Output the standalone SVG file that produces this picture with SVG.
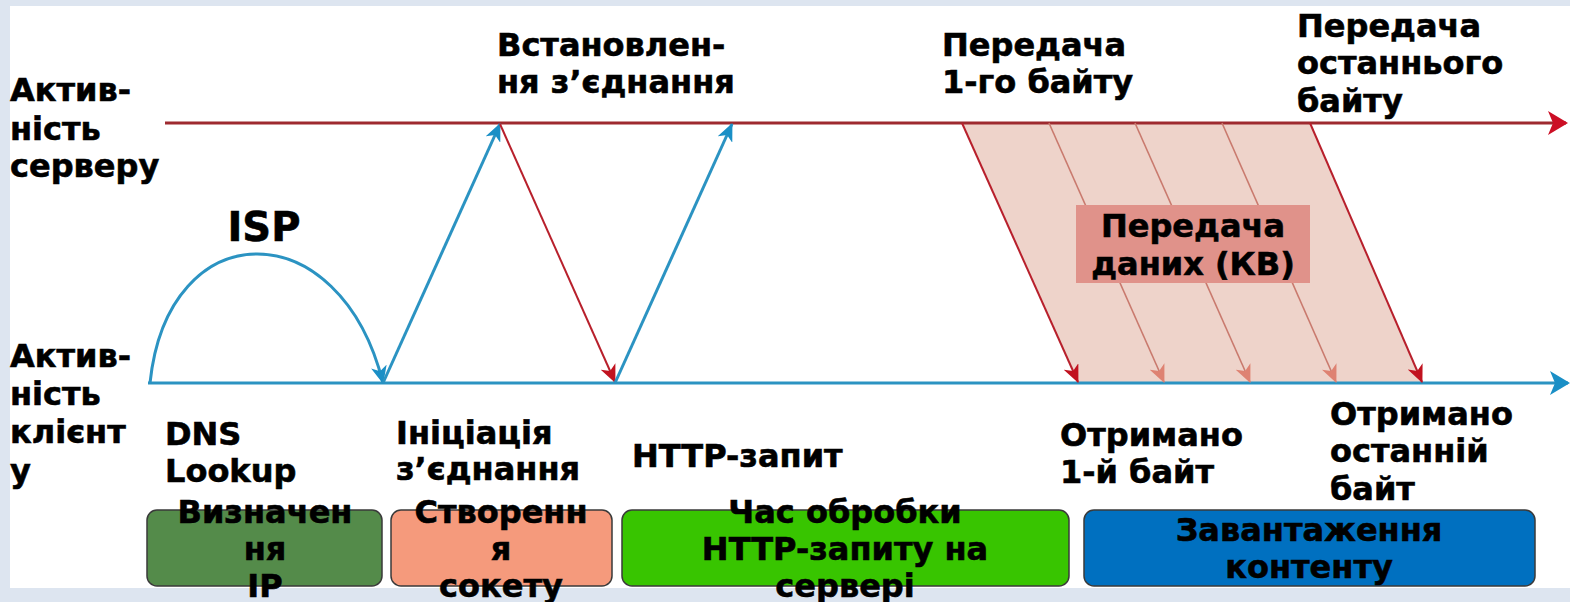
<svg xmlns="http://www.w3.org/2000/svg" width="1570" height="602" viewBox="0 0 1570 602">
<style>
.t{font-family:"DejaVu Sans","Liberation Sans",sans-serif;font-weight:bold;font-size:32px;fill:#000;stroke:#000;stroke-width:0.6px}
.c{text-anchor:middle}
.red{stroke:#9e2a2f;stroke-width:3;fill:none}
.blue{stroke:#2b93c2;stroke-width:3;fill:none}
.dr{stroke:#b8202c;stroke-width:2;fill:none}
.lr{stroke:#c97a6e;stroke-width:1.6;fill:none}
.box{stroke:#3a3a3a;stroke-width:1.5}
</style>
<defs>
<marker id="bigRed" markerWidth="20" markerHeight="24" refX="18" refY="12" orient="auto" markerUnits="userSpaceOnUse"><path d="M0,0 L20,12 L0,24 L5,12 Z" fill="#cc0f25"/></marker>
<marker id="bigBlue" markerWidth="20" markerHeight="24" refX="18" refY="12" orient="auto" markerUnits="userSpaceOnUse"><path d="M0,0 L20,12 L0,24 L5,12 Z" fill="#1a8fc6"/></marker>
<marker id="sBlue" markerWidth="18" markerHeight="16" refX="17" refY="8" orient="auto" markerUnits="userSpaceOnUse"><path d="M0,0 L18,8 L0,16 L5,8 Z" fill="#1a8fc6"/></marker>
<marker id="sRed" markerWidth="18" markerHeight="16" refX="17" refY="8" orient="auto" markerUnits="userSpaceOnUse"><path d="M0,0 L18,8 L0,16 L5,8 Z" fill="#c1121f"/></marker>
<marker id="sPink" markerWidth="18" markerHeight="16" refX="17" refY="8" orient="auto" markerUnits="userSpaceOnUse"><path d="M0,0 L18,8 L0,16 L5,8 Z" fill="#de8272"/></marker>
</defs>
<rect x="0" y="0" width="1570" height="602" fill="#dde5f0"/>
<rect x="10" y="6" width="1560" height="582" fill="#ffffff"/>

<g id="transfer-area">
<polygon points="962,122 1310,122 1422,383 1078,383" fill="#eed3ca"/>
</g>

<g id="connectors">
<line x1="165" y1="123" x2="1566" y2="123" class="red" marker-end="url(#bigRed)"/>
<line x1="148" y1="383" x2="1568" y2="383" class="blue" marker-end="url(#bigBlue)"/>
<path d="M150,383 C168,211 340,211 383,383" class="blue" marker-end="url(#sBlue)"/>
<line x1="383" y1="383" x2="500" y2="124" class="blue" marker-end="url(#sBlue)"/>
<line x1="500" y1="124" x2="615" y2="382" class="dr" marker-end="url(#sRed)"/>
<line x1="615" y1="383" x2="732" y2="124" class="blue" marker-end="url(#sBlue)"/>
<line x1="962" y1="123" x2="1078" y2="382" class="dr" marker-end="url(#sRed)"/>
<line x1="1049" y1="123" x2="1164" y2="382" class="lr" marker-end="url(#sPink)"/>
<line x1="1135" y1="123" x2="1250" y2="382" class="lr" marker-end="url(#sPink)"/>
<line x1="1222" y1="123" x2="1336" y2="382" class="lr" marker-end="url(#sPink)"/>
<line x1="1310" y1="123" x2="1422" y2="382" class="dr" marker-end="url(#sRed)"/>
</g>

<g id="server-label">
<text class="t" x="10" y="101">Актив-</text>
<text class="t" x="10" y="140">ність</text>
<text class="t" x="10" y="177">серверу</text>
</g>
<g id="client-label">
<text class="t" x="10" y="367">Актив-</text>
<text class="t" x="10" y="405">ність</text>
<text class="t" x="10" y="443">клієнт</text>
<text class="t" x="10" y="482">у</text>
</g>
<g id="isp"><text class="t c" x="264" y="241" style="font-size:40px">ISP</text></g>
<g id="conn-established">
<text class="t" x="497" y="56">Встановлен-</text>
<text class="t" x="497" y="93">ня з’єднання</text>
</g>
<g id="first-byte-sent">
<text class="t" x="942" y="56">Передача</text>
<text class="t" x="942" y="93">1-го байту</text>
</g>
<g id="last-byte-sent">
<rect x="1297" y="6" width="211" height="115" fill="#ffffff"/>
<text class="t" x="1297" y="37">Передача</text>
<text class="t" x="1297" y="74">останнього</text>
<text class="t" x="1297" y="112">байту</text>
</g>
<g id="data-transfer">
<rect x="1076" y="205" width="234" height="78" fill="#e0928a"/>
<text class="t c" x="1193" y="237">Передача</text>
<text class="t c" x="1193" y="275">даних (КВ)</text>
</g>
<g id="dns-lookup">
<text class="t" x="165" y="445">DNS</text>
<text class="t" x="165" y="482">Lookup</text>
</g>
<g id="conn-init">
<text class="t" x="396" y="444">Ініціація</text>
<text class="t" x="396" y="480">з’єднання</text>
</g>
<g id="http-request"><text class="t" x="632" y="467">HTTP-запит</text></g>
<g id="first-byte-received">
<text class="t" x="1060" y="446">Отримано</text>
<text class="t" x="1060" y="483">1-й байт</text>
</g>
<g id="last-byte-received">
<text class="t" x="1330" y="425">Отримано</text>
<text class="t" x="1330" y="462">останній</text>
<text class="t" x="1330" y="500">байт</text>
</g>

<g id="box-ip">
<rect class="box" x="147" y="510" width="235" height="76" rx="10" fill="#548b4a"/>
<text class="t c" x="265" y="523">Визначен</text>
<text class="t c" x="265" y="560">ня</text>
<text class="t c" x="265" y="597">IP</text>
</g>
<g id="box-socket">
<rect class="box" x="391" y="510" width="221" height="76" rx="10" fill="#f59a7c"/>
<text class="t c" x="501" y="523">Створенн</text>
<text class="t c" x="501" y="560">я</text>
<text class="t c" x="501" y="597">сокету</text>
</g>
<g id="box-http">
<rect class="box" x="622" y="510" width="447" height="76" rx="10" fill="#38c500"/>
<text class="t c" x="845" y="523">Час обробки</text>
<text class="t c" x="845" y="560">HTTP-запиту на</text>
<text class="t c" x="845" y="597">сервері</text>
</g>
<g id="box-content">
<rect class="box" x="1084" y="510" width="451" height="76" rx="10" fill="#0070c0"/>
<text class="t c" x="1309" y="541">Завантаження</text>
<text class="t c" x="1309" y="578">контенту</text>
</g>
</svg>
